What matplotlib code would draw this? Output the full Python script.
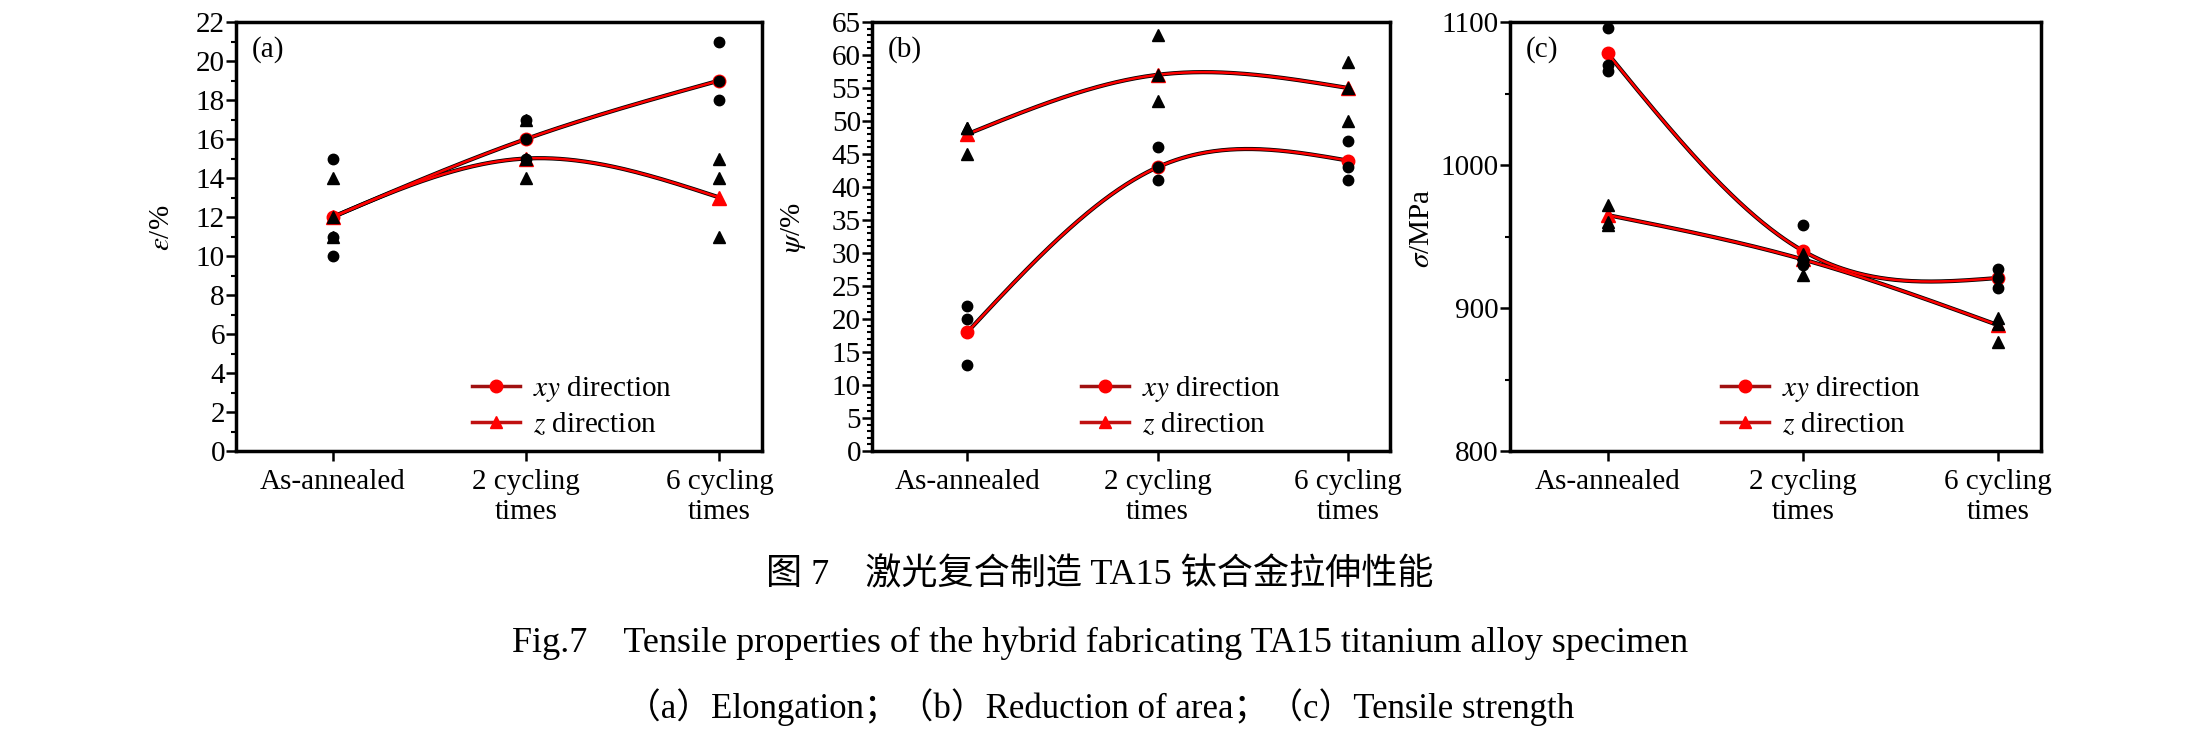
import numpy as np
import matplotlib
matplotlib.use("Agg")
import matplotlib.pyplot as plt
from matplotlib.lines import Line2D
from matplotlib.ticker import MultipleLocator

plt.rcParams['font.family'] = ['Liberation Serif', 'Noto Sans CJK SC']
plt.rcParams['mathtext.fontset'] = 'stix'

# categories on the x axis
cats = ["As-annealed", "2 cycling\ntimes", "6 cycling\ntimes"]

# (a) elongation, %
elong_xy_raw = [[15, 11, 10], [17, 16, 15], [21, 19, 18]]
elong_z_raw = [[14, 12, 11], [17, 15, 14], [15, 14, 11]]
elong_xy_mean = [12, 16, 19]
elong_z_mean = [12, 15, 13]

# (b) reduction of area, %
area_xy_raw = [[22, 20, 13], [46, 43, 41], [47, 43, 41]]
area_z_raw = [[49, 49, 45], [63, 57, 53], [59, 55, 50]]
area_xy_mean = [18, 43, 44]
area_z_mean = [48, 57, 55]

# (c) tensile strength, MPa
strength_xy_raw = [[1096, 1070, 1066], [958, 933, 930], [927, 921, 914]]
strength_z_raw = [[972, 960, 958], [938, 934, 923], [893, 889, 876]]
strength_xy_mean = [1078, 940, 921]
strength_z_mean = [965, 934, 888]


def natural_spline(x, y, n=200):
    """Natural cubic spline through the points (like Origin's spline line)."""
    x = np.asarray(x, float)
    y = np.asarray(y, float)
    h = np.diff(x)
    nn = len(x)
    A = np.zeros((nn, nn))
    r = np.zeros(nn)
    A[0, 0] = A[-1, -1] = 1
    for i in range(1, nn - 1):
        A[i, i - 1] = h[i - 1]
        A[i, i] = 2 * (h[i - 1] + h[i])
        A[i, i + 1] = h[i]
        r[i] = 6 * ((y[i + 1] - y[i]) / h[i] - (y[i] - y[i - 1]) / h[i - 1])
    M = np.linalg.solve(A, r)
    xs = np.linspace(x[0], x[-1], n)
    k = np.clip(np.searchsorted(x, xs) - 1, 0, nn - 2)
    x0, x1, hk = x[k], x[k + 1], h[k]
    ys = (M[k] * (x1 - xs)**3 + M[k + 1] * (xs - x0)**3) / (6 * hk) \
        + (y[k] / hk - M[k] * hk / 6) * (x1 - xs) \
        + (y[k + 1] / hk - M[k + 1] * hk / 6) * (xs - x0)
    return xs, ys


def panel(ax, xy_raw, z_raw, xy_mean, z_mean, ylim, major, minor, ylabel, tag, legx, labx):
    xpos = np.arange(len(cats))
    for mean in (xy_mean, z_mean):
        xs, ys = natural_spline(xpos, mean)
        ax.plot(xs, ys, color='black', lw=3.0, zorder=2)
        ax.plot(xs, ys, color='red', lw=1.8, zorder=3)
    ax.plot(xpos, xy_mean, 'o', color='red', ms=9, zorder=4)
    ax.plot(xpos, z_mean, '^', color='red', ms=9.5, zorder=4)
    for i in range(len(cats)):
        ax.plot([xpos[i]] * len(xy_raw[i]), xy_raw[i], 'o', color='black', ms=7.5, zorder=5)
        ax.plot([xpos[i]] * len(z_raw[i]), z_raw[i], '^', color='black', ms=8, zorder=5)

    ax.set_xlim(-0.5, 2.22)
    ax.set_ylim(*ylim)
    ax.set_xticks(xpos)
    ax.set_xticklabels(cats)
    ax.yaxis.set_major_locator(MultipleLocator(major))
    ax.yaxis.set_minor_locator(MultipleLocator(minor))
    ax.tick_params(axis='both', which='major', direction='out', length=7, width=1.8,
                   labelsize=21, top=False, right=False)
    ax.tick_params(axis='y', which='minor', direction='out', length=3.5, width=1.5, right=False)
    ax.tick_params(axis='x', pad=6)
    ax.tick_params(axis='y', pad=1)
    for s in ax.spines.values():
        s.set_linewidth(2.5)
    ax.set_ylabel(ylabel, fontsize=21)
    ax.yaxis.set_label_coords(labx, 0.52)
    ax.text(0.03, 0.935, tag, transform=ax.transAxes, fontsize=21, va='center', ha='left')

    handles = [Line2D([], [], color='#a01010', lw=2.5, marker='o', mfc='red', mec='red', ms=9),
               Line2D([], [], color='#c01010', lw=2.5, marker='^', mfc='red', mec='red', ms=9)]
    ax.legend(handles, ["$xy$ direction", "$z$ direction"], loc='lower left',
              bbox_to_anchor=(legx, 0.03), frameon=False, fontsize=21,
              handlelength=1.65, handletextpad=0.45, labelspacing=0.25,
              borderpad=0, borderaxespad=0)


fig = plt.figure(figsize=(22, 7.38), dpi=100)
ax1 = fig.add_axes([236 / 2200, 287 / 738, 526 / 2200, 429 / 738])
ax2 = fig.add_axes([872 / 2200, 287 / 738, 518 / 2200, 429 / 738])
ax3 = fig.add_axes([1510 / 2200, 287 / 738, 531 / 2200, 429 / 738])

panel(ax1, elong_xy_raw, elong_z_raw, elong_xy_mean, elong_z_mean, (0, 22), 2, 1,
      r"$\varepsilon$/%", "(a)", 0.449, -0.116)
panel(ax2, area_xy_raw, area_z_raw, area_xy_mean, area_z_mean, (0, 65), 5, 1,
      r"$\psi$/%", "(b)", 0.403, -0.124)
panel(ax3, strength_xy_raw, strength_z_raw, strength_xy_mean, strength_z_mean, (800, 1100), 100, 50,
      r"$\sigma$/MPa", "(c)", 0.397, -0.141)

fig.text(0.5, 1 - 575 / 738, "图 7　激光复合制造 TA15 钛合金拉伸性能", ha='center', va='center', fontsize=26)
fig.text(0.5, 1 - 643 / 738, "Fig.7　Tensile properties of the hybrid fabricating TA15 titanium alloy specimen",
         ha='center', va='center', fontsize=26)
fig.text(0.5, 1 - 707 / 738, "（a）Elongation；（b）Reduction of area；（c）Tensile strength",
         ha='center', va='center', fontsize=25)

fig.savefig("out.png", dpi=100)
